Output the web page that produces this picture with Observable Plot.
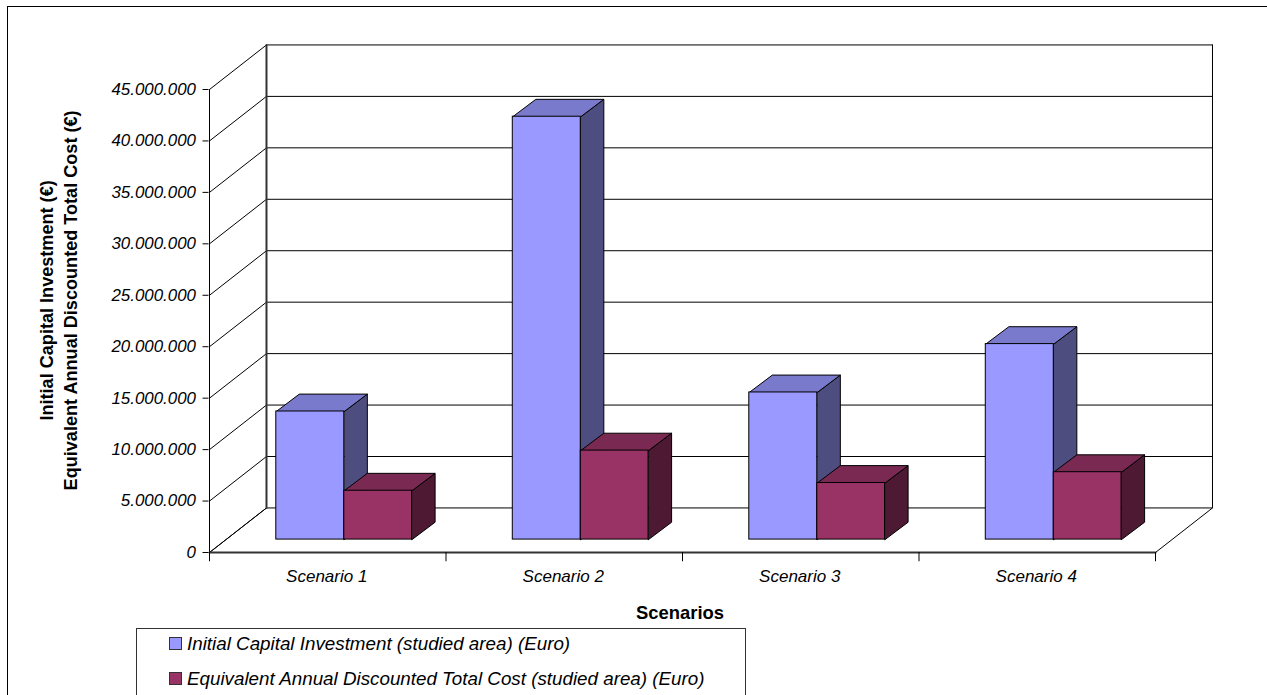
<!DOCTYPE html>
<html>
<head>
<meta charset="utf-8">
<script src="https://cdn.jsdelivr.net/npm/d3@7"></script>
<script src="https://cdn.jsdelivr.net/npm/@observablehq/plot@0.6"></script>
<style>
  html, body { margin: 0; padding: 0; background: #fff; overflow: hidden; }
  #page { position: relative; width: 1267px; height: 695px; overflow: hidden; font-family: "Liberation Sans", Arial, sans-serif; color: #000; }
  #frame { position: absolute; left: 7px; top: 6px; width: 1300px; height: 760px; border: 1px solid #000; pointer-events: none; }
  #chart svg { display: block; background: transparent; max-width: none; }
  #legend { position: absolute; left: 136px; top: 628px; width: 608px; height: 90px; border: 1px solid #333; background: #fff; font-style: italic; font-size: 18.8px; }
  #legend div { position: absolute; left: 32px; white-space: nowrap; line-height: 20px; }
  #legend i { display: inline-block; width: 11px; height: 11px; border: 1px solid #333; margin-right: 5px; vertical-align: 0; }
</style>
</head>
<body>
<div id="page">
  <div id="frame"></div>
  <div id="chart"></div>
  <div id="legend"></div>
</div>
<script>
// Chart data, in euro
const scenarios = ["Scenario 1", "Scenario 2", "Scenario 3", "Scenario 4"];
const capitalInvestment = [12450000, 41100000, 14300000, 19000000];
const annualCost = [4750000, 8650000, 5500000, 6550000];
const seriesNames = [
  "Initial Capital Investment (studied area) (Euro)",
  "Equivalent Annual Discounted Total Cost (studied area) (Euro)"
];
const frontColors = ["#9999ff", "#993366"];
const topColors = ["#7a7acc", "#7a2952"];
const sideColors = ["#4d4d80", "#4d1933"];
const gridValues = d3.range(0, 45000001, 5000000);
const axisTitle = "Initial Capital Investment (€)\nEquivalent Annual Discounted Total Cost (€)";

// Oblique projection: depth (0 = front edge, 1 = back wall) shifts a point in data units
const depthX = 0.241;
const depthY = 4330000;
const barDepth = [0.29, 0.68];
const barDepthX = 0.25;
const barEdges = [0.2125, 0.5, 0.7865];
const xAt = (pos, z) => pos + z * depthX;
const yAt = (value, z) => value + z * depthY;
const pt = (id, fill, pos, value, z) => ({id, fill, x: xAt(pos, z), y: yAt(value, z)});
// Bars lean slightly further sideways than the walls
const barPt = (id, fill, pos, value, z) => ({
  id, fill,
  x: xAt(pos, barDepth[0]) + (z - barDepth[0]) * barDepthX,
  y: yAt(value, z)
});

// Grid lines run across the side wall, then along the back wall
const grid = gridValues.flatMap((v) => [
  pt(v, null, 0, v, 0), pt(v, null, 0, v, 1), pt(v, null, 4, v, 1)
]);
const wallLines = [
  [[0, 0, 0], [0, 45000000, 0]],
  [[4, 0, 0], [4, 0, 1], [4, 45000000, 1]],
  [[0, 0, 0], [0, 0, 1]]
].flatMap((line, i) => line.map(([p, v, z]) => pt(i, null, p, v, z)));
const heavyLines = [
  [[0, 0, 1], [0, 45000000, 1]],
  [[0, 0, 0], [4, 0, 0]]
].flatMap((line, i) => line.map(([p, v, z]) => pt(i, null, p, v, z)));

// Side and top faces of each bar, back to front
const faces = [];
const fronts = [];
scenarios.forEach((name, c) => {
  [capitalInvestment[c], annualCost[c]].forEach((value, s) => {
    const a = c + barEdges[s], b = c + barEdges[s + 1];
    const [z0, z1] = barDepth;
    const side = `${name}-${s}-side`, top = `${name}-${s}-top`;
    faces.push(
      barPt(side, sideColors[s], b, 0, z0), barPt(side, sideColors[s], b, 0, z1),
      barPt(side, sideColors[s], b, value, z1), barPt(side, sideColors[s], b, value, z0),
      barPt(top, topColors[s], a, value, z0), barPt(top, topColors[s], a, value, z1),
      barPt(top, topColors[s], b, value, z1), barPt(top, topColors[s], b, value, z0)
    );
    fronts.push({
      x1: xAt(a, z0), x2: xAt(b, z0),
      y1: yAt(0, z0), y2: yAt(value, z0),
      fill: frontColors[s]
    });
  });
});

const chart = Plot.plot({
  width: 1267,
  height: 628,
  marginLeft: 209,
  marginRight: 112,
  marginTop: 89,
  marginBottom: 76,
  style: {fontFamily: "'Liberation Sans', Arial, sans-serif", color: "#000", background: "transparent", overflow: "visible"},
  x: {type: "linear", domain: [0, 4], axis: null},
  y: {type: "linear", domain: [0, 45000000], axis: null},
  color: {type: "identity"},
  marks: [
    Plot.line(grid, {x: "x", y: "y", z: "id", stroke: "#000", strokeWidth: 1}),
    Plot.line(wallLines, {x: "x", y: "y", z: "id", stroke: "#000", strokeWidth: 1}),
    Plot.line(heavyLines, {x: "x", y: "y", z: "id", stroke: "#333", strokeWidth: 2}),
    Plot.ruleX(d3.range(0, 5), {x: (d) => d, y1: () => 0, y2: () => -900000, stroke: "#000", strokeWidth: 1}),
    Plot.axisY({
      ticks: gridValues,
      tickSize: 6,
      tickPadding: 7,
      dx: -0.5,
      fontSize: 16.9,
      fontStyle: "italic",
      label: null,
      tickFormat: (d) => d3.format(",")(d).replace(/,/g, ".")
    }),
    Plot.line(faces, {x: "x", y: "y", z: "id", fill: "fill", stroke: "#000", strokeWidth: 1, curve: "linear-closed"}),
    Plot.rect(fronts, {x1: "x1", x2: "x2", y1: "y1", y2: "y2", fill: "fill", stroke: "#000", strokeWidth: 1}),
    Plot.text(scenarios, {
      x: (d, i) => i + 0.5,
      y: () => 0,
      dy: 24,
      dx: -1,
      text: (d) => d,
      fontSize: 17,
      fontStyle: "italic",
      fill: "#000"
    }),
    Plot.text(["Scenarios"], {
      x: () => 2,
      y: () => 0,
      dy: 61,
      dx: -2.5,
      text: (d) => d,
      fontSize: 18.4,
      fontWeight: "bold",
      fill: "#000"
    }),
    Plot.text([axisTitle], {
      x: () => 0,
      y: () => 24500000,
      dx: -152,
      text: (d) => d,
      rotate: -90,
      lineHeight: 1.3,
      fontSize: 18.1,
      fontWeight: "bold",
      fill: "#000"
    })
  ]
});
document.getElementById("chart").append(chart);

// Legend beneath the plot
const legend = d3.select("#legend");
seriesNames.forEach((name, i) => {
  const row = legend.append("div").style("top", `${5 + i * 35}px`);
  row.append("i").style("background", frontColors[i]);
  row.append("span").text(name);
});
</script>
</body>
</html>
